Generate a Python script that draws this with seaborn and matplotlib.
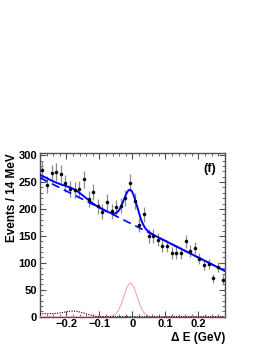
import numpy as np
import pandas as pd
import seaborn as sns
import matplotlib.pyplot as plt
from matplotlib.ticker import MultipleLocator, FixedLocator

# Data points, 14 MeV bins from -0.28 to 0.28 GeV
bin_centers = np.arange(-0.273, 0.28, 0.014)
events = [272, 245, 266, 269, 265, 248, 237, 235, 237, 255,
          218, 231, 205, 195, 213, 196, 203, 206, 220, 249,
          215, 170, 190, 150, 150, 143, 132, 131, 118, 118,
          118, 140, 122, 128, 108, 96, 98, 71, 92, 69]
errors = np.sqrt(events)

# Fit components (parameters)
bg_at_zero, bg_slope = 171.5, -309.0
sig_amp, sig_mean, sig_sigma = 62.0, -0.006, 0.02
low_step, low_edge, low_width = 5.5, -0.13, 0.01
low_bump, low_mean, low_sigma = 5.0, -0.18, 0.025

x = np.linspace(-0.28, 0.28, 400)
background = bg_at_zero + bg_slope * x
signal = sig_amp * np.exp(-0.5 * ((x - sig_mean) / sig_sigma) ** 2)
peaking_bkg = (low_step / (1 + np.exp((x - low_edge) / low_width))
               + low_bump * np.exp(-0.5 * ((x - low_mean) / low_sigma) ** 2))
total = background + signal + peaking_bkg

points_df = pd.DataFrame({'dE': bin_centers, 'Events': events})
curves_df = pd.DataFrame({'dE': x, 'total': total, 'background': background,
                          'signal': signal, 'peaking': peaking_bkg})

sns.set_style('ticks')
plt.rcParams['font.family'] = ['Liberation Sans', 'DejaVu Sans']
plt.rcParams['text.color'] = 'black'
plt.rcParams['axes.labelcolor'] = 'black'
plt.rcParams['xtick.labelcolor'] = 'black'
plt.rcParams['ytick.labelcolor'] = 'black'

fig = plt.figure(figsize=(2.7, 3.49), dpi=100)
ax = fig.add_axes([0.148, 0.0926, 0.685, 0.469])

ax.errorbar(bin_centers, events, yerr=errors, fmt='none', ecolor='#8a8a8a',
            elinewidth=0.9, capsize=0, zorder=2)
sns.scatterplot(data=points_df, x='dE', y='Events', color='black', marker='o',
                s=5, edgecolor='black', linewidth=0.3, ax=ax, zorder=4)

sns.lineplot(data=curves_df, x='dE', y='total', color='#0000ff', linewidth=1.4, ax=ax, zorder=3)
sns.lineplot(data=curves_df, x='dE', y='background', color='#0000ff', linewidth=1.2,
             linestyle=(0, (5, 3)), ax=ax, zorder=3)
sns.lineplot(data=curves_df, x='dE', y='signal', color='#f4a0a0', linewidth=0.7, ax=ax, zorder=3)
sns.lineplot(data=curves_df, x='dE', y='peaking', color='black', linewidth=0.8,
             linestyle=(0, (1, 1.2)), ax=ax, zorder=3)

ax.set_xlim(-0.28, 0.28)
ax.set_ylim(0, 304)

ax.xaxis.set_major_locator(FixedLocator([-0.2, -0.1, 0, 0.1, 0.2]))
ax.xaxis.set_minor_locator(MultipleLocator(0.02))
ax.yaxis.set_major_locator(MultipleLocator(50))
ax.yaxis.set_minor_locator(MultipleLocator(10))
ax.set_xticklabels(['\u22120.2', '\u22120.1', '0', '0.1', '0.2'])

ax.tick_params(which='both', direction='in', top=True, right=True, color='#505050',
               labelcolor='black')
ax.tick_params(which='major', length=4, width=0.8, labelsize=8, pad=2)
ax.tick_params(which='minor', length=2, width=0.6)
for lab in ax.get_xticklabels() + ax.get_yticklabels():
    lab.set_fontweight('bold')
for sp in ax.spines.values():
    sp.set_color('#505050')
    sp.set_linewidth(1.0)

ax.set_xlabel('\u0394 E (GeV)', fontsize=8.5, fontweight='bold', loc='right', labelpad=2,
              color='black')
ax.set_ylabel('Events / 14 MeV', fontsize=8.5, fontweight='bold', loc='top', labelpad=0,
              color='black')
ax.text(0.95, 0.94, '(f)', transform=ax.transAxes, fontsize=9, fontweight='bold',
        ha='right', va='top', color='black')

fig.savefig('out.png', dpi=100)
